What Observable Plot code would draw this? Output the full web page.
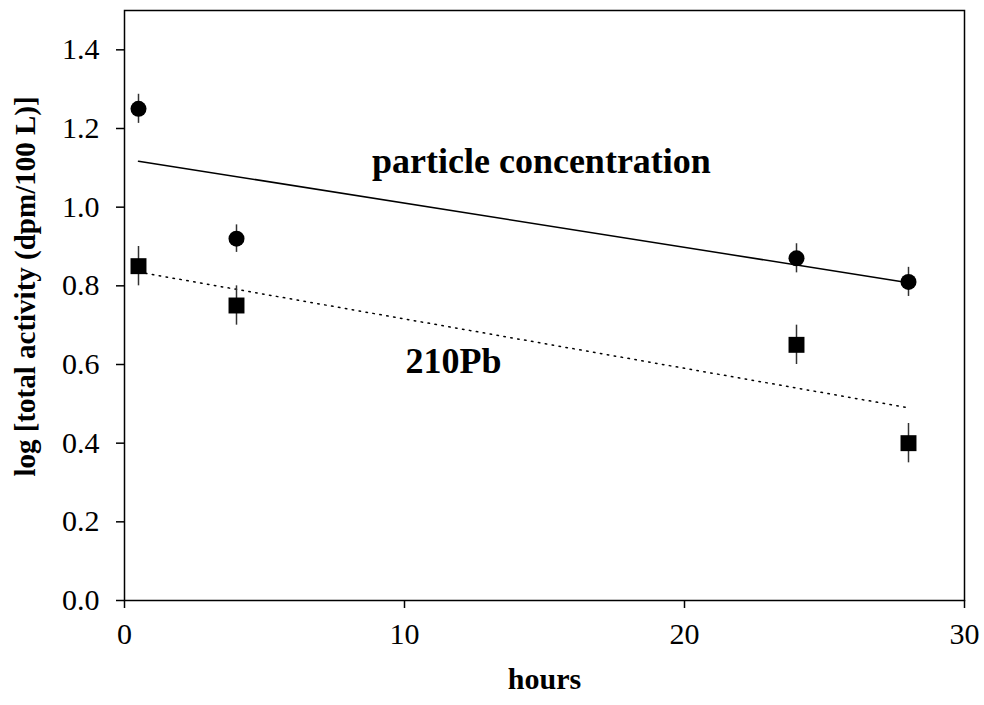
<!DOCTYPE html>
<html>
<head>
<meta charset="utf-8">
<script src="https://cdn.jsdelivr.net/npm/d3@7"></script>
<script src="https://cdn.jsdelivr.net/npm/@observablehq/plot@0.6"></script>
<style>
  html, body { margin: 0; padding: 0; background: #fff; }
  #chart svg { display: block; }
</style>
</head>
<body>
<div id="chart"></div>
<script>
// ---- data ----
const hours = [0.5, 4, 24, 28];
const particleVals = [1.25, 0.92, 0.87, 0.81];
const particleErr = [0.037, 0.035, 0.037, 0.037];
const pbVals = [0.85, 0.75, 0.65, 0.40];
const pbErr = [0.05, 0.05, 0.05, 0.05];

const particleFitX = [0.5, 28];
const particleFitY = [1.117, 0.808];
const pbFitX = [0.5, 28];
const pbFitY = [0.835, 0.49];

const xTicks = [0, 10, 20, 30];
const yTicks = [0, 0.2, 0.4, 0.6, 0.8, 1.0, 1.2, 1.4];

const labelText = ["particle concentration", "210Pb"];
const labelX = [14.89, 11.75];
const labelY = [1.117, 0.608];

// ---- tables ----
const particles = hours.map((h, i) => ({x: h, y: particleVals[i], e: particleErr[i]}));
const pb = hours.map((h, i) => ({x: h, y: pbVals[i], e: pbErr[i]}));
const pFit = particleFitX.map((x, i) => ({x, y: particleFitY[i]}));
const bFit = pbFitX.map((x, i) => ({x, y: pbFitY[i]}));
const labels = labelText.map((t, i) => ({t, x: labelX[i], y: labelY[i]}));

const font = "'Liberation Serif', 'Times New Roman', serif";

const chart = Plot.plot({
  width: 984,
  height: 705,
  marginLeft: 124,
  marginRight: 20,
  marginTop: 10,
  marginBottom: 105,
  style: {fontFamily: font, fontSize: "30px", color: "black", background: "white"},
  x: {domain: [0, 30]},
  y: {domain: [0, 1.5]},
  marks: [
    Plot.frame({stroke: "black", strokeWidth: 1.5}),
    Plot.axisX({ticks: xTicks, tickSize: 8, tickPadding: 14, label: null, strokeWidth: 1.5}),
    Plot.axisY({ticks: yTicks, tickFormat: d3.format(".1f"), tickSize: 8, tickPadding: 17, label: null, strokeWidth: 1.5}),
    Plot.line(pFit, {x: "x", y: "y", stroke: "black", strokeWidth: 1.5}),
    Plot.line(bFit, {x: "x", y: "y", stroke: "black", strokeWidth: 1.5, strokeDasharray: "1.5 5.5"}),
    Plot.ruleX(particles, {x: "x", y1: d => d.y - d.e, y2: d => d.y + d.e, stroke: "#333", strokeWidth: 1.5}),
    Plot.ruleX(pb, {x: "x", y1: d => d.y - d.e, y2: d => d.y + d.e, stroke: "#333", strokeWidth: 1.5}),
    Plot.dot(particles, {x: "x", y: "y", r: 8, fill: "black", symbol: "circle"}),
    Plot.dot(pb, {x: "x", y: "y", r: 9, fill: "black", symbol: "square"}),
    Plot.text(labels, {x: "x", y: "y", text: "t", fontSize: 36, fontWeight: "bold", fill: "black"}),
    Plot.text(["hours"], {frameAnchor: "bottom", dy: 88, fontSize: 30, fontWeight: "bold", fill: "black"}),
    Plot.text(["log [total activity (dpm/100 L)]"], {frameAnchor: "left", textAnchor: "middle", dx: -99, dy: -19, rotate: -90, fontSize: 29, fontWeight: "bold", fill: "black"})
  ]
});
document.getElementById("chart").appendChild(chart);
</script>
</body>
</html>
